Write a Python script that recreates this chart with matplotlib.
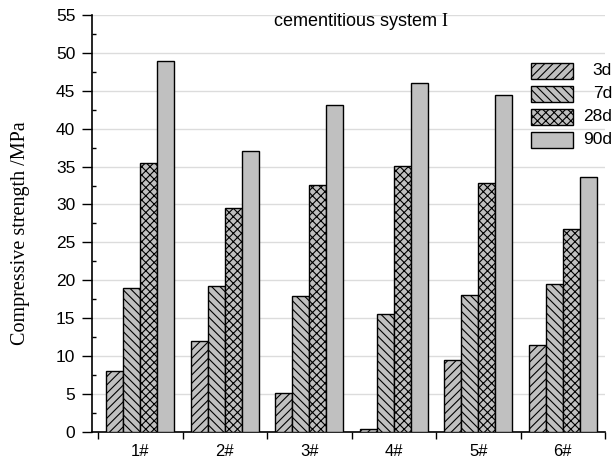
import matplotlib
matplotlib.use("Agg")
import matplotlib.pyplot as plt
import numpy as np
from matplotlib.patches import Rectangle
from matplotlib.ticker import MultipleLocator

plt.rcParams['hatch.linewidth'] = 0.8
plt.rcParams['mathtext.fontset'] = 'custom'
plt.rcParams['mathtext.rm'] = 'Liberation Serif'
plt.rcParams['font.family'] = ['Liberation Sans', 'DejaVu Sans']

categories = ["1#", "2#", "3#", "4#", "5#", "6#"]
series_names = ["3d", "7d", "28d", "90d"]
s3d = [8.0, 12.0, 5.2, 0.4, 9.5, 11.5]
s7d = [19.0, 19.3, 17.9, 15.5, 18.0, 19.5]
s28d = [35.5, 29.5, 32.6, 35.1, 32.8, 26.8]
s90d = [48.9, 37.1, 43.1, 46.0, 44.4, 33.6]
series = [s3d, s7d, s28d, s90d]
hatches = ["////", "\\\\\\\\", "xxxx", ""]
fill = "#c0c0c0"

fig = plt.figure(figsize=(6.14, 4.65), dpi=100)
ax = fig.add_axes([92 / 614, 0.071, 513 / 614, 0.897])

x = np.arange(len(categories)) + 0.5
w = 0.2
for i, (vals, h) in enumerate(zip(series, hatches)):
    ax.bar(x + (i - 1.5) * w, vals, width=w, color=fill, edgecolor="black",
           linewidth=1.0, hatch=h, zorder=3)

ax.set_xlim(-6 / 84.5, 6)
ax.set_ylim(0, 55)
ax.yaxis.set_major_locator(MultipleLocator(5))
ax.yaxis.set_minor_locator(MultipleLocator(2.5))
ax.set_xticks(x)
ax.set_xticklabels(categories)
ax.set_xticks(np.arange(0, 7), minor=True)
ax.tick_params(axis='x', which='major', length=0, pad=9, labelsize=12)
ax.tick_params(axis='x', which='minor', length=5, direction='out', width=1)
ax.tick_params(axis='y', which='major', length=7, direction='out', width=1,
               labelsize=12.5, pad=5)
ax.tick_params(axis='y', which='minor', length=3, direction='in', width=1)

ax.grid(axis='y', which='major', color='#dcdcdc', linewidth=1, zorder=0)
ax.set_axisbelow(True)
for s in ['top', 'right']:
    ax.spines[s].set_visible(False)
for s in ['left', 'bottom']:
    ax.spines[s].set_linewidth(1.2)

ax.set_ylabel("Compressive strength /MPa", fontfamily='Liberation Serif',
              fontsize=14.5)
ax.yaxis.set_label_coords(-62 / 513, 0.477)

ax.text(0.524, 0.983, r"cementitious system $\mathrm{I}$", transform=ax.transAxes,
        ha='center', va='center', fontsize=13)

# legend drawn manually
y0 = 0.866
for i, (name, h) in enumerate(zip(series_names, hatches)):
    yy = y0 - i * 0.055
    r = Rectangle((0.856, yy - 0.019), 0.082, 0.038, transform=ax.transAxes,
                  facecolor=fill, edgecolor='black', linewidth=1.0, hatch=h,
                  clip_on=False, zorder=5)
    ax.add_patch(r)
    ax.text(1.0136, yy, name, transform=ax.transAxes, ha='right', va='center',
            fontsize=12.5)

fig.savefig("out.png", dpi=100)
